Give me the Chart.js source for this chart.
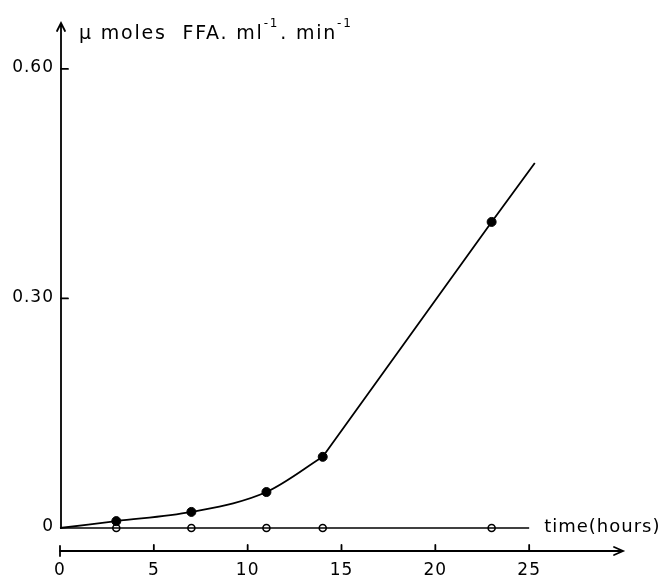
<!DOCTYPE html>
<html>
<head>
<meta charset="utf-8">
<script src="https://cdn.jsdelivr.net/npm/chart.js@4"></script>
<style>
  html, body { margin: 0; padding: 0; background: #fff; }
  #wrap { width: 669px; height: 578px; }
</style>
</head>
<body>
<div id="wrap"><canvas id="ffaChart" width="669" height="578"></canvas></div>
<script>
// measured points (hours / µmoles FFA per ml per min)
const sampleHours = [3, 7, 11, 14, 23];
const activeValues = [0.009, 0.021, 0.047, 0.093, 0.40];
const controlValues = [0, 0, 0, 0, 0];

// hand-drawn curves through the points: curved start, then straight
const curveHours = [0, 3, 7, 11, 14];
const curveValues = [0, 0.009, 0.021, 0.047, 0.093];
const straightHours = [14, 23, 25.3];
const straightValues = [0.093, 0.40, 0.477];
const baseHours = [0, 25];
const baseValues = [0, 0];

const xTicks = [0, 5, 10, 15, 20, 25];
const yTicks = [0, 0.30, 0.60];
const yTickLabels = ['0', '0.30', '0.60'];

const pairs = (xs, ys) => xs.map((x, i) => ({ x: x, y: ys[i] }));
const FONT = '"DejaVu Sans", sans-serif';

const axesPlugin = {
    id: 'handAxes',
    afterDraw(chart) {
        const ctx = chart.ctx;
        const xs = chart.scales.x, ys = chart.scales.y;
        const x0 = xs.getPixelForValue(0);
        const y0 = ys.getPixelForValue(0);
        const yTop = ys.getPixelForValue(0.66);
        const xEnd = xs.getPixelForValue(30);
        const xAxisY = y0 + 23;

        ctx.save();
        ctx.strokeStyle = '#000';
        ctx.fillStyle = '#000';
        ctx.lineWidth = 1.8;
        ctx.lineCap = 'round';

        // y axis with arrow
        ctx.beginPath();
        ctx.moveTo(x0 + 1, y0);
        ctx.lineTo(x0 + 1, yTop);
        ctx.moveTo(x0 - 3, yTop + 8);
        ctx.lineTo(x0 + 1, yTop);
        ctx.lineTo(x0 + 5, yTop + 8);
        ctx.stroke();

        // y ticks + labels
        ctx.font = '17px ' + FONT;
        ctx.letterSpacing = '1px';
        ctx.textAlign = 'right';
        ctx.textBaseline = 'middle';
        yTicks.forEach((v, i) => {
            const py = ys.getPixelForValue(v);
            if (v !== 0) {
                ctx.beginPath();
                ctx.moveTo(x0 + 1, py);
                ctx.lineTo(x0 + 8, py);
                ctx.stroke();
            }
            ctx.fillText(yTickLabels[i], x0 - 6, py - 1);
        });

        // x axis (drawn below the zero line) with arrow
        ctx.beginPath();
        ctx.moveTo(x0, xAxisY);
        ctx.lineTo(xEnd, xAxisY);
        ctx.moveTo(xEnd - 9, xAxisY - 4);
        ctx.lineTo(xEnd, xAxisY);
        ctx.lineTo(xEnd - 9, xAxisY + 4);
        ctx.stroke();

        ctx.textAlign = 'center';
        xTicks.forEach(v => {
            const px = xs.getPixelForValue(v);
            ctx.beginPath();
            if (v === 0) {
                ctx.moveTo(px, xAxisY - 5);
                ctx.lineTo(px, xAxisY + 5);
            } else {
                ctx.moveTo(px, xAxisY - 6);
                ctx.lineTo(px, xAxisY);
            }
            ctx.stroke();
            ctx.fillText(String(v), px, xAxisY + 20);
        });

        // axis titles
        ctx.textAlign = 'left';
        ctx.font = '18px ' + FONT;
        ctx.fillText('time(hours)', xs.getPixelForValue(25.8), y0 - 1);

        let tx = x0 + 19;
        const ty = yTop + 11;
        ctx.letterSpacing = '1.8px';
        const parts = [['\u03BC moles  FFA. ml', false], ['-1', true], ['. min', false], ['-1', true]];
        parts.forEach(([t, sup]) => {
            ctx.font = (sup ? '12px ' : '19px ') + FONT;
            ctx.fillText(t, tx, sup ? ty - 10 : ty);
            tx += ctx.measureText(t).width + (sup ? 1 : 0);
        });
        ctx.restore();
    }
};

new Chart(document.getElementById('ffaChart').getContext('2d'), {
    type: 'scatter',
    data: {
        datasets: [
            {
                label: 'curve',
                data: pairs(curveHours, curveValues),
                showLine: true,
                borderColor: '#000',
                borderWidth: 1.8,
                pointRadius: 0,
                cubicInterpolationMode: 'monotone',
                clip: false
            },
            {
                label: 'straight',
                data: pairs(straightHours, straightValues),
                showLine: true,
                borderColor: '#000',
                borderWidth: 1.8,
                pointRadius: 0,
                tension: 0,
                clip: false
            },
            {
                label: 'baseline',
                data: pairs(baseHours, baseValues),
                showLine: true,
                borderColor: '#000',
                borderWidth: 1.6,
                pointRadius: 0,
                clip: false
            },
            {
                label: 'active',
                data: pairs(sampleHours, activeValues),
                backgroundColor: '#000',
                borderColor: '#000',
                pointRadius: 4.5,
                clip: false
            },
            {
                label: 'control',
                data: pairs(sampleHours, controlValues),
                backgroundColor: '#fff',
                borderColor: '#000',
                borderWidth: 1.6,
                pointRadius: 3.5,
                clip: false
            }
        ]
    },
    options: {
        responsive: false,
        animation: false,
        layout: { padding: { left: 60, right: 46, top: 23, bottom: 50 } },
        scales: {
            x: { type: 'linear', min: 0, max: 30, display: false },
            y: { type: 'linear', min: 0, max: 0.66, display: false }
        },
        plugins: {
            legend: { display: false },
            tooltip: { enabled: false }
        }
    },
    plugins: [axesPlugin]
});
</script>
</body>
</html>
